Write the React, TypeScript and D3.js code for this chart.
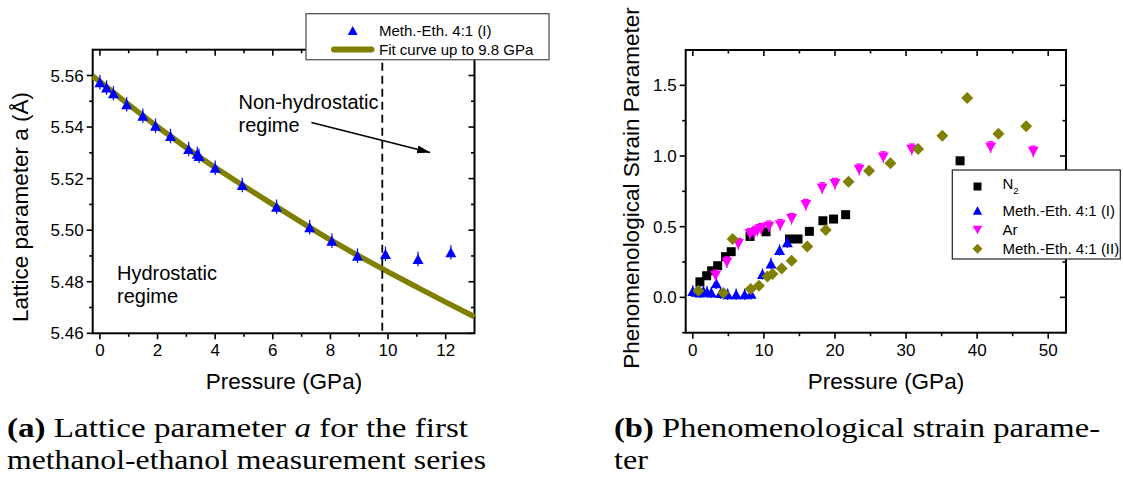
import React from 'react';
import * as d3 from 'd3';

const W = 1123;
const H = 477;

// ---------- Panel (a): lattice parameter ----------
const aPressure = [0, 0.23, 0.47, 0.93, 1.49, 1.93, 2.45, 3.08, 3.38, 3.44, 4.0, 4.94, 6.13, 7.28, 8.05, 8.94, 9.91, 11.04, 12.18];
const aLattice = [5.5574, 5.5553, 5.5531, 5.5488, 5.5444, 5.5405, 5.5365, 5.5315, 5.5296, 5.5288, 5.5242, 5.5175, 5.5091, 5.5011, 5.4959, 5.4901, 5.4908, 5.4888, 5.4914];
const aError = 0.0028;
const fitPressure = [-0.25, 0, 1, 2, 3, 4, 5, 6, 7, 8, 9, 10, 11, 12, 13];
const fitLattice = [5.5597, 5.5576, 5.5487, 5.5401, 5.532, 5.5243, 5.5171, 5.51, 5.503, 5.4962, 5.4899, 5.4838, 5.4779, 5.4721, 5.4664];
const aXTicks = [0, 2, 4, 6, 8, 10, 12];
const aXMinor = [1, 3, 5, 7, 9, 11];
const aYTicks = [5.46, 5.48, 5.5, 5.52, 5.54, 5.56];
const aYMinor = [5.47, 5.49, 5.51, 5.53, 5.55];
const hydroLimit = 9.8;
const arrowFrom = [7.34, 5.5418];
const arrowTo = [11.46, 5.5301];

// ---------- Panel (b): strain parameter ----------
const n2Pressure = [1.0, 1.95, 2.65, 3.5, 4.6, 5.4, 8.05, 10.3, 13.6, 14.8, 16.4, 18.3, 19.8, 21.5, 37.6];
const n2Strain = [0.11, 0.153, 0.188, 0.224, 0.288, 0.323, 0.431, 0.464, 0.413, 0.413, 0.467, 0.542, 0.554, 0.585, 0.966];
const me1Pressure = [0.0, 0.5, 1.0, 1.5, 2.0, 2.6, 3.3, 3.9, 4.9, 6.1, 7.3, 8.2, 9.8, 11.0, 12.2, 13.3];
const me1Strain = [0.045, 0.04, 0.035, 0.045, 0.04, 0.035, 0.1, 0.03, 0.022, 0.022, 0.022, 0.025, 0.165, 0.24, 0.335, 0.39];
const arPressure = [3.2, 4.8, 6.4, 8.05, 8.65, 9.1, 9.6, 10.7, 12.3, 13.9, 15.9, 18.2, 20.0, 23.4, 26.8, 30.8, 41.9, 47.9];
const arStrain = [0.153, 0.247, 0.377, 0.448, 0.455, 0.472, 0.483, 0.5, 0.511, 0.554, 0.653, 0.771, 0.802, 0.903, 0.99, 1.045, 1.061, 1.03];
const me2Pressure = [0.78, 4.3, 5.6, 8.14, 9.3, 10.5, 11.2, 12.5, 13.9, 16.1, 18.7, 21.9, 24.8, 27.8, 31.7, 35.1, 38.6, 43.0, 46.9];
const me2Strain = [0.047, 0.031, 0.413, 0.059, 0.082, 0.148, 0.165, 0.205, 0.259, 0.36, 0.476, 0.818, 0.896, 0.948, 1.05, 1.144, 1.41, 1.158, 1.21];
const strainError = 0.04;
const bXTicks = [0, 10, 20, 30, 40, 50];
const bXMinor = [5, 15, 25, 35, 45];
const bYTicks = [0, 0.5, 1.0, 1.5];
const bYMinor = [-0.25, 0.25, 0.75, 1.25];

const BLUE = '#0000ff';
const MAGENTA = '#ff00ff';
const OLIVE = '#808000';
const SANS = "'Liberation Sans', Arial, Helvetica, sans-serif";
const SERIF = "'Liberation Serif', 'Times New Roman', serif";

const triPath = (w: number, h: number, down = false) => {
  const s = down ? -1 : 1;
  return `M0,${-s * h / 2}L${w / 2},${s * h / 2}L${-w / 2},${s * h / 2}Z`;
};
const sqPath = (a: number) => `M${-a / 2},${-a / 2}h${a}v${a}h${-a}Z`;
const diaPath = (a: number) => `M0,${-a / 2}L${a / 2},0L0,${a / 2}L${-a / 2},0Z`;

type Lin = d3.ScaleLinear<number, number>;

function Frame({ x, y, xt, xm, yt, ym, yfmt }: { x: Lin; y: Lin; xt: number[]; xm: number[]; yt: number[]; ym: number[]; yfmt: (v: number) => string }) {
  const [x0, x1] = x.range();
  const [y0, y1] = y.range(); // y0 bottom, y1 top
  const MJ = 6, MN = 3.5;
  const tickStyle = { stroke: '#000', strokeWidth: 1.6 };
  return (
    <g>
      {xt.map((v) => (
        <g key={'xt' + v}>
          <line x1={x(v)} x2={x(v)} y1={y0} y2={y0 + MJ} {...tickStyle} />
          <line x1={x(v)} x2={x(v)} y1={y1} y2={y1 + MJ} {...tickStyle} />
          <text x={x(v)} y={y0 + 23} textAnchor="middle" fontFamily={SANS} fontSize={17}>{v}</text>
        </g>
      ))}
      {xm.map((v) => (
        <g key={'xm' + v}>
          <line x1={x(v)} x2={x(v)} y1={y0} y2={y0 + MN} {...tickStyle} />
          <line x1={x(v)} x2={x(v)} y1={y1} y2={y1 + MN} {...tickStyle} />
        </g>
      ))}
      {yt.map((v) => (
        <g key={'yt' + v}>
          <line x1={x0} x2={x0 - MJ} y1={y(v)} y2={y(v)} {...tickStyle} />
          <line x1={x1} x2={x1 - MJ} y1={y(v)} y2={y(v)} {...tickStyle} />
          <text x={x0 - 9} y={y(v)} dy="0.36em" textAnchor="end" fontFamily={SANS} fontSize={17}>{yfmt(v)}</text>
        </g>
      ))}
      {ym.map((v) => (
        <g key={'ym' + v}>
          <line x1={x0} x2={x0 - MN} y1={y(v)} y2={y(v)} {...tickStyle} />
          <line x1={x1} x2={x1 - MN} y1={y(v)} y2={y(v)} {...tickStyle} />
        </g>
      ))}
      <rect x={x0} y={y1} width={x1 - x0} height={y0 - y1} fill="none" stroke="#000" strokeWidth={2} />
    </g>
  );
}

export default function App() {
  // Panel (a) scales
  const xa = d3.scaleLinear().domain([-0.25, 13]).range([92.7, 474.5]);
  const ya = d3.scaleLinear().domain([5.46, 5.57]).range([333.3, 49.7]);
  // Panel (b) scales
  const xb = d3.scaleLinear().domain([-1, 52.5]).range([685.7, 1066]);
  const yb = d3.scaleLinear().domain([-0.25, 1.75]).range([332.7, 50]);

  const fitLine = d3
    .line<number>()
    .x((_, i) => xa(fitPressure[i]))
    .y((d) => ya(d))
    .curve(d3.curveMonotoneX)(fitLattice) as string;

  const f2 = d3.format('.2f');
  const f1 = d3.format('.1f');

  return (
    <svg width={W} height={H} viewBox={`0 0 ${W} ${H}`} style={{ position: 'fixed', left: 0, top: 0, background: '#fff' }}>
      <defs>
        <marker id="arrowHead" markerUnits="userSpaceOnUse" markerWidth={14} markerHeight={10} refX={13} refY={5} orient="auto">
          <path d="M0,1 L13,5 L0,9 Z" fill="#000" />
        </marker>
      </defs>
      <rect x={0} y={0} width={W} height={H} fill="#fff" />

      {/* ---------------- Panel (a) ---------------- */}
      <Frame x={xa} y={ya} xt={aXTicks} xm={aXMinor} yt={aYTicks} ym={aYMinor} yfmt={(v) => f2(v)} />
      <path d={fitLine} fill="none" stroke={OLIVE} strokeWidth={5.5} />
      <line x1={xa(hydroLimit)} x2={xa(hydroLimit)} y1={ya(5.57)} y2={ya(5.46)} stroke="#000" strokeWidth={1.8} strokeDasharray="8,5" />
      {aPressure.map((p, i) => (
        <g key={'a' + i}>
          <line x1={xa(p)} x2={xa(p)} y1={ya(aLattice[i] - aError)} y2={ya(aLattice[i] + aError)} stroke={BLUE} strokeWidth={1.2} />
          <path d={triPath(11, 10)} transform={`translate(${xa(p)},${ya(aLattice[i])})`} fill={BLUE} />
        </g>
      ))}
      <text fontFamily={SANS} fontSize={20} x={238.5} y={109}>Non-hydrostatic</text>
      <text fontFamily={SANS} fontSize={20} x={238.5} y={132}>regime</text>
      <text fontFamily={SANS} fontSize={20} x={117} y={280}>Hydrostatic</text>
      <text fontFamily={SANS} fontSize={20} x={117} y={303}>regime</text>
      <line x1={xa(arrowFrom[0])} y1={ya(arrowFrom[1])} x2={xa(arrowTo[0])} y2={ya(arrowTo[1])} stroke="#000" strokeWidth={1.6} markerEnd="url(#arrowHead)" />

      {/* legend (a) */}
      <rect x={306} y={13.7} width={243} height={46} fill="#fff" stroke="#555" strokeWidth={1.3} />
      <path d={triPath(10, 9)} transform="translate(352.7,30.5)" fill={BLUE} />
      <line x1={334} x2={371.5} y1={49.5} y2={49.5} stroke={OLIVE} strokeWidth={6} strokeLinecap="round" />
      <text x={379} y={30.5} dy="0.36em" fontFamily={SANS} fontSize={15}>Meth.-Eth. 4:1 (I)</text>
      <text x={379} y={49.5} dy="0.36em" fontFamily={SANS} fontSize={15}>Fit curve up to 9.8 GPa</text>

      <text fontFamily={SANS} fontSize={22.5} textAnchor="middle" x={284} y={389}>Pressure (GPa)</text>
      <text fontFamily={SANS} fontSize={22.5} textAnchor="middle" transform="translate(28,207) rotate(-90)">Lattice parameter a (Å)</text>

      {/* ---------------- Panel (b) ---------------- */}
      <Frame x={xb} y={yb} xt={bXTicks} xm={bXMinor} yt={bYTicks} ym={bYMinor} yfmt={(v) => f1(v)} />
      {n2Pressure.map((p, i) => (
        <path key={'n' + i} d={sqPath(9)} transform={`translate(${xb(p)},${yb(n2Strain[i])})`} fill="#000" />
      ))}
      {me1Pressure.map((p, i) => (
        <g key={'m1' + i}>
          <line x1={xb(p)} x2={xb(p)} y1={yb(me1Strain[i] - strainError)} y2={yb(me1Strain[i] + strainError)} stroke={BLUE} strokeWidth={1.2} />
          <path d={triPath(11, 10)} transform={`translate(${xb(p)},${yb(me1Strain[i])})`} fill={BLUE} />
        </g>
      ))}
      {arPressure.map((p, i) => (
        <g key={'ar' + i}>
          <line x1={xb(p)} x2={xb(p)} y1={yb(arStrain[i] - strainError)} y2={yb(arStrain[i] + strainError)} stroke={MAGENTA} strokeWidth={1.2} />
          <line x1={xb(p) - 3} x2={xb(p) + 3} y1={yb(arStrain[i] + strainError)} y2={yb(arStrain[i] + strainError)} stroke={MAGENTA} strokeWidth={1.2} />
          <path d={triPath(11, 10, true)} transform={`translate(${xb(p)},${yb(arStrain[i])})`} fill={MAGENTA} />
        </g>
      ))}
      {me2Pressure.map((p, i) => (
        <path key={'m2' + i} d={diaPath(12)} transform={`translate(${xb(p)},${yb(me2Strain[i])})`} fill={OLIVE} />
      ))}

      {/* legend (b) */}
      <rect x={952.3} y={170} width={168} height={89} fill="#fff" stroke="#222" strokeWidth={1.2} />
      <path d={sqPath(8)} transform="translate(977.5,186.5)" fill="#000" />
      <path d={triPath(9.5, 8.5)} transform="translate(977.5,210.5)" fill={BLUE} />
      <path d={triPath(9.5, 8.5, true)} transform="translate(977.5,230)" fill={MAGENTA} />
      <path d={diaPath(10)} transform="translate(977.5,248.7)" fill={OLIVE} />
      <text x={1002.5} y={184} dy="0.36em" fontFamily={SANS} fontSize={15}>N<tspan fontSize={9.5} dy="5">2</tspan></text>
      <text x={1002.5} y={210.7} dy="0.36em" fontFamily={SANS} fontSize={15}>Meth.-Eth. 4:1 (I)</text>
      <text x={1002.5} y={230} dy="0.36em" fontFamily={SANS} fontSize={15}>Ar</text>
      <text x={1002.5} y={248.7} dy="0.36em" fontFamily={SANS} fontSize={15}>Meth.-Eth. 4:1 (II)</text>

      <text fontFamily={SANS} fontSize={22.5} textAnchor="middle" x={886} y={389}>Pressure (GPa)</text>
      <text fontFamily={SANS} fontSize={22.5} textAnchor="middle" transform="translate(639,188) rotate(-90)">Phenomenological Strain Parameter</text>

      {/* captions */}
      <text x={7} y={437} fontFamily={SERIF} fontSize={27} textLength={461} lengthAdjust="spacingAndGlyphs">
        <tspan fontWeight="bold">(a)</tspan>{' Lattice parameter '}<tspan fontStyle="italic">a</tspan>{' for the first'}
      </text>
      <text x={7} y={469} fontFamily={SERIF} fontSize={27} textLength={479} lengthAdjust="spacingAndGlyphs">methanol-ethanol measurement series</text>
      <text x={614} y={437} fontFamily={SERIF} fontSize={27} textLength={486} lengthAdjust="spacingAndGlyphs">
        <tspan fontWeight="bold">(b)</tspan>{' Phenomenological strain parame-'}
      </text>
      <text x={614} y={469} fontFamily={SERIF} fontSize={27} textLength={34} lengthAdjust="spacingAndGlyphs">ter</text>
    </svg>
  );
}
